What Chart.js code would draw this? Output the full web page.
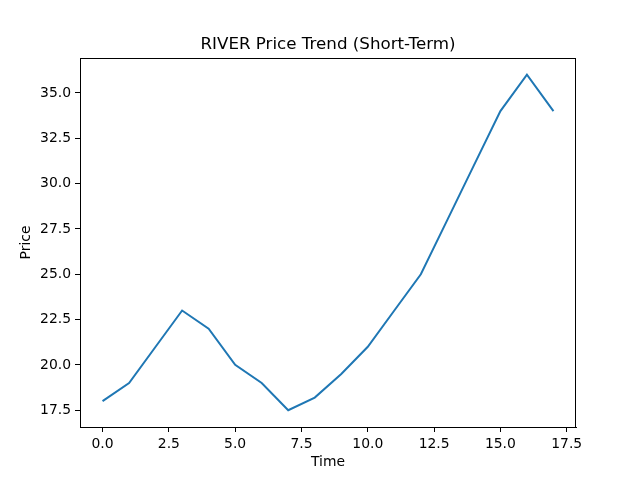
<!DOCTYPE html>
<html>
<head>
<meta charset="utf-8">
<script src="https://cdn.jsdelivr.net/npm/chart.js@4/dist/chart.umd.min.js"></script>
<style>
  html, body { margin: 0; padding: 0; background: #fff; }
  #chart { display: block; }
</style>
</head>
<body>
<canvas id="chart" width="640" height="480"></canvas>
<script>
const titulo = 'RIVER Price Trend (Short-Term)'
const tempos = [0, 1, 2, 3, 4, 5, 6, 7, 8, 9, 10, 11, 12, 13, 14, 15, 16, 17]
const precos = [18, 19, 21, 23, 22, 20, 19, 17.5, 18.2, 19.5, 21, 23, 25, 28, 31, 34, 36, 34]
const ticksX = [0, 2.5, 5, 7.5, 10, 12.5, 15, 17.5]
const ticksY = [17.5, 20, 22.5, 25, 27.5, 30, 32.5, 35]

const fonte = 'DejaVu Sans'

// moldura e título no estilo matplotlib
const moldura = {
  id: 'moldura',
  afterDraw(chart) {
    const { ctx, chartArea: a } = chart
    ctx.save()
    ctx.strokeStyle = '#000'
    ctx.lineWidth = 1
    ctx.strokeRect(a.left + 0.5, a.top + 0.5, a.right - a.left - 1, a.bottom - a.top)
    ctx.fillStyle = '#000'
    ctx.font = `16.7px "${fonte}"`
    ctx.textAlign = 'center'
    ctx.textBaseline = 'alphabetic'
    ctx.fillText(titulo, (a.left + a.right) / 2, 49)
    ctx.restore()
  }
}

const fixarTicks = valores => scale => {
  scale.ticks = valores.map(v => ({ value: v }))
}

new Chart(document.getElementById('chart'), {
  type: 'line',
  data: {
    datasets: [{
      data: tempos.map((t, i) => ({ x: t, y: precos[i] })),
      borderColor: '#1f77b4',
      borderWidth: 2,
      pointRadius: 0,
      tension: 0,
      fill: false
    }]
  },
  options: {
    responsive: false,
    animation: false,
    layout: { padding: { top: 58, right: 64, left: 0, bottom: 0 } },
    plugins: {
      legend: { display: false },
      title: { display: false },
      tooltip: { enabled: false }
    },
    scales: {
      x: {
        type: 'linear',
        min: -0.85,
        max: 17.85,
        afterBuildTicks: fixarTicks(ticksX),
        afterFit: s => { s.height = 53 },
        grid: { display: true, drawOnChartArea: false, drawTicks: true, tickLength: 5, color: '#000' },
        border: { display: true, color: '#000' },
        ticks: {
          color: '#000',
          font: { family: fonte, size: 13.9 },
          padding: 4,
          maxRotation: 0,
          autoSkip: false,
          callback: v => Number(v).toFixed(1)
        },
        title: {
          display: true,
          text: 'Time',
          color: '#000',
          font: { family: fonte, size: 13.9 },
          padding: { top: 4, bottom: 9 }
        }
      },
      y: {
        type: 'linear',
        min: 16.575,
        max: 36.925,
        afterBuildTicks: fixarTicks(ticksY),
        afterFit: s => { s.width = 80 },
        grid: { display: true, drawOnChartArea: false, drawTicks: true, tickLength: 5, color: '#000' },
        border: { display: true, color: '#000' },
        ticks: {
          color: '#000',
          font: { family: fonte, size: 13.9 },
          padding: 4,
          autoSkip: false,
          callback: v => Number(v).toFixed(1)
        },
        title: {
          display: true,
          text: 'Price',
          color: '#000',
          font: { family: fonte, size: 13.9 },
          padding: { top: 18, bottom: 4 }
        }
      }
    }
  },
  plugins: [moldura]
})
</script>
</body>
</html>
